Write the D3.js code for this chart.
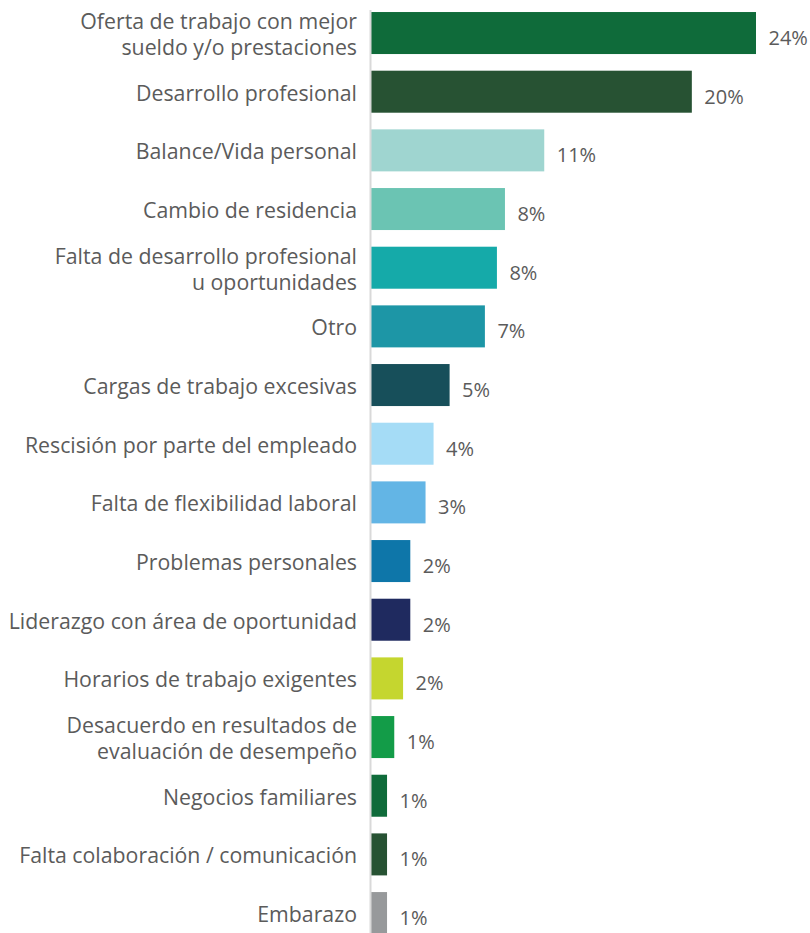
<!DOCTYPE html>
<html>
<head>
<meta charset="utf-8">
<script src="https://cdn.jsdelivr.net/npm/d3@7"></script>
<style>
  html, body { margin: 0; padding: 0; background: #fff; }
  svg { display: block; }
</style>
</head>
<body>
<svg id="chart" width="810" height="933"></svg>
<script>
// Reasons for leaving (share of responses, %)
const categories = [
  ["Oferta de trabajo con mejor", "sueldo y/o prestaciones"],
  ["Desarrollo profesional"],
  ["Balance/Vida personal"],
  ["Cambio de residencia"],
  ["Falta de desarrollo profesional", "u oportunidades"],
  ["Otro"],
  ["Cargas de trabajo excesivas"],
  ["Rescisión por parte del empleado"],
  ["Falta de flexibilidad laboral"],
  ["Problemas personales"],
  ["Liderazgo con área de oportunidad"],
  ["Horarios de trabajo exigentes"],
  ["Desacuerdo en resultados de", "evaluación de desempeño"],
  ["Negocios familiares"],
  ["Falta colaboración / comunicación"],
  ["Embarazo"]
];
const values = [24.0, 20.0, 10.8, 8.35, 7.85, 7.1, 4.9, 3.9, 3.4, 2.45, 2.45, 2.0, 1.45, 1.0, 1.0, 1.0];
const colors = [
  "#0f6b3a", "#275233", "#9fd5d0", "#6bc4b3", "#15aaa9", "#1d96a6",
  "#174f5a", "#a5dcf6", "#63b5e5", "#0e76a9", "#1f2a5f", "#c5d62f",
  "#139c48", "#0f6b3a", "#275233", "#97999b"
];

const svg = d3.select("#chart");
const keys = categories.map((c, i) => i);

const y = d3.scaleBand()
  .domain(keys)
  .range([3.7, 942.4])
  .paddingInner(0.284)
  .paddingOuter(0.142);

const x = d3.scaleLinear()
  .domain([0, 24])
  .range([371, 756]);

// bars
svg.append("g")
  .selectAll("rect")
  .data(values)
  .join("rect")
  .attr("x", x(0))
  .attr("y", (d, i) => y(i))
  .attr("width", d => x(d) - x(0))
  .attr("height", y.bandwidth())
  .attr("fill", (d, i) => colors[i]);

// vertical baseline
svg.append("line")
  .attr("x1", 370.5).attr("x2", 370.5)
  .attr("y1", 10).attr("y2", 933)
  .attr("stroke", "#d9d9d9")
  .attr("stroke-width", 2);

// category labels
const lab = svg.append("g")
  .attr("font-family", "'Open Sans', sans-serif")
  .attr("font-size", 21.3)
  .attr("fill", "#5b5b5b")
  .attr("text-anchor", "end");

categories.forEach((lines, i) => {
  const cy = y(i) + y.bandwidth() / 2 + 1.5;
  const t = lab.append("text")
    .attr("x", 357)
    .attr("y", cy);
  lines.forEach((ln, j) => {
    t.append("tspan")
      .attr("x", 357)
      .attr("y", cy + (j - (lines.length - 1) / 2) * 26)
      .attr("dy", "0.35em")
      .text(ln);
  });
});

// value labels
svg.append("g")
  .attr("font-family", "'Open Sans', sans-serif")
  .attr("font-size", 20)
  .attr("fill", "#5b5b5b")
  .selectAll("text")
  .data(values)
  .join("text")
  .attr("x", d => x(d) + 12.5)
  .attr("y", (d, i) => y(i) + y.bandwidth() / 2 + 5)
  .attr("dy", "0.35em")
  .text(d => Math.round(d) + "%");
</script>
</body>
</html>
